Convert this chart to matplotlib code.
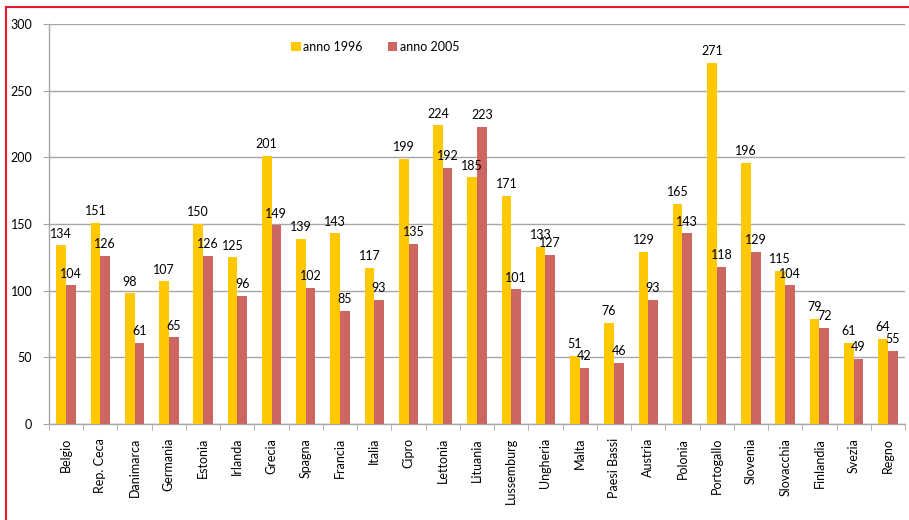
import numpy as np
import matplotlib
matplotlib.use('Agg')
from matplotlib import pyplot as plt
from matplotlib.lines import Line2D

# Data
paesi = ['Belgio', 'Rep. Ceca', 'Danimarca', 'Germania', 'Estonia', 'Irlanda',
         'Grecia', 'Spagna', 'Francia', 'Italia', 'Cipro', 'Lettonia', 'Lituania',
         'Lussemburg', 'Ungheria', 'Malta', 'Paesi Bassi', 'Austria', 'Polonia',
         'Portogallo', 'Slovenia', 'Slovacchia', 'Finlandia', 'Svezia', 'Regno']
anno1996 = [134, 151, 98, 107, 150, 125, 201, 139, 143, 117, 199, 224, 185,
            171, 133, 51, 76, 129, 165, 271, 196, 115, 79, 61, 64]
anno2005 = [104, 126, 61, 65, 126, 96, 149, 102, 85, 93, 135, 192, 223,
            101, 127, 42, 46, 93, 143, 118, 129, 104, 72, 49, 55]

yellow = '#FFC800'
red = '#CD6660'
grey = '#A6A6A6'

plt.rc('font', family=['Lato', 'DejaVu Sans'], size=9)

W, H = 909, 520
fig = plt.figure(figsize=(W / 100, H / 100), dpi=100)
ax = fig.add_axes([49 / W, 96 / H, (905 - 49) / W, (424 - 24) / H])

x = np.arange(len(paesi))
bw = 0.283
b1 = ax.bar(x - bw / 2, anno1996, bw, color=yellow, label='anno 1996', zorder=3)
b2 = ax.bar(x + bw / 2, anno2005, bw, color=red, label='anno 2005', zorder=3)

for bars in (b1, b2):
    for rect in bars:
        h = rect.get_height()
        ax.annotate(str(int(h)), (rect.get_x() + rect.get_width() / 2, h),
                    xytext=(0, 4), textcoords='offset points',
                    ha='center', va='bottom', fontsize=9, color='black')

ax.set_xlim(-0.5, len(paesi) - 0.5)
ax.set_ylim(0, 300)
ax.set_yticks(range(0, 301, 50))
ax.yaxis.grid(True, color=grey, lw=1)
ax.set_axisbelow(True)
for s in ['top', 'right']:
    ax.spines[s].set_visible(False)
for s in ['left', 'bottom']:
    ax.spines[s].set_color(grey)
    ax.spines[s].set_linewidth(1)

ax.set_xticks(x)
ax.set_xticklabels(paesi, rotation=90, ha='center', va='top')
ax.tick_params(axis='x', which='major', length=0, pad=10)
ax.set_xticks(np.arange(-0.5, len(paesi), 1), minor=True)
ax.tick_params(axis='x', which='minor', length=4, color=grey)
ax.tick_params(axis='y', length=4, color=grey, pad=8)

ax.legend(loc='upper left', bbox_to_anchor=(0.27, 0.985), ncol=2, frameon=False,
          handlelength=0.75, handleheight=0.75, handletextpad=0.2,
          columnspacing=2.0, fontsize=9)

# red frame (only top and left visible)
fig.add_artist(Line2D([6 / W, 1], [1 - 7 / H, 1 - 7 / H], color='#E8192C', lw=1.5,
                      transform=fig.transFigure))
fig.add_artist(Line2D([6 / W, 6 / W], [0, 1 - 7 / H], color='#E8192C', lw=1.5,
                      transform=fig.transFigure))

fig.savefig('out.png', dpi=100)
